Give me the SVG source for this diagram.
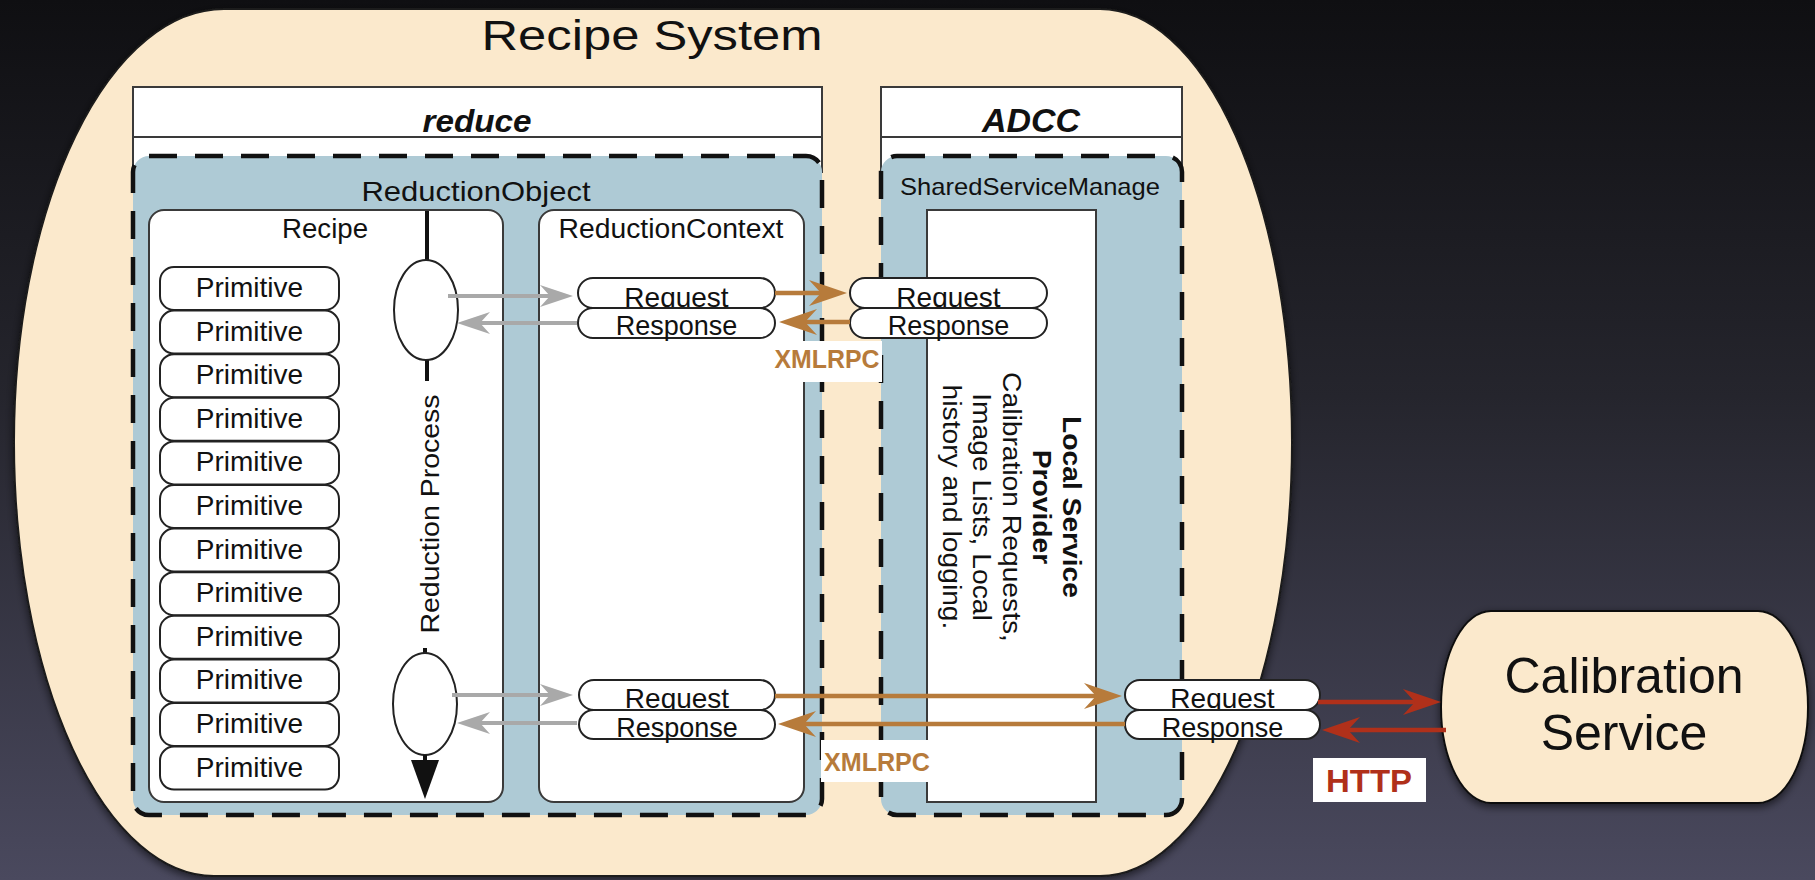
<svg xmlns="http://www.w3.org/2000/svg" width="1815" height="880" viewBox="0 0 1815 880">
<defs>
<linearGradient id="bg" x1="0" y1="0" x2="0" y2="1">
<stop offset="0" stop-color="#0f0f12"/>
<stop offset="0.45" stop-color="#25252d"/>
<stop offset="1" stop-color="#4a495e"/>
</linearGradient>
<filter id="shadow" x="-10%" y="-10%" width="120%" height="120%">
<feDropShadow dx="0" dy="3" stdDeviation="4" flood-color="#000" flood-opacity="0.6"/>
</filter>
<marker id="ah-gray" viewBox="-36 -14 38 28" refX="-12" refY="0" markerWidth="38" markerHeight="28" markerUnits="userSpaceOnUse" orient="auto">
<path d="M0,0 L-33,-11 L-23,0 L-33,11 Z" fill="#a9a9a9"/>
</marker>
<marker id="ah-orange" viewBox="-40 -15 42 30" refX="-12" refY="0" markerWidth="42" markerHeight="30" markerUnits="userSpaceOnUse" orient="auto">
<path d="M0,0 L-38,-13 L-26,0 L-38,13 Z" fill="#b77b3b"/>
</marker>
<marker id="ah-red" viewBox="-40 -15 42 30" refX="-12" refY="0" markerWidth="42" markerHeight="30" markerUnits="userSpaceOnUse" orient="auto">
<path d="M0,0 L-38,-13 L-26,0 L-38,13 Z" fill="#b0301a"/>
</marker>
</defs>
<style>
.t{font-family:"Liberation Sans",Arial,Helvetica,sans-serif;fill:#111;text-anchor:middle}
.box{fill:#fff;stroke:#3a3a3a;stroke-width:2}
.region{fill:#aecad5;stroke:#111;stroke-width:4.5;stroke-dasharray:28 18}
.pill{fill:#fff;stroke:#222;stroke-width:2}
.prim{fill:#fff;stroke:#222;stroke-width:2}
.beige{fill:#fbe9cc}
.gray{stroke:#a9a9a9;stroke-width:4;fill:none;marker-end:url(#ah-gray)}
.orange{stroke:#b77b3b;stroke-width:4.5;fill:none;marker-end:url(#ah-orange)}
.red{stroke:#b0301a;stroke-width:4.5;fill:none;marker-end:url(#ah-red)}
.lbl{fill:#fff}
</style>
<rect x="0" y="0" width="1815" height="880" fill="url(#bg)"/>

<g id="recipe-system">
<path class="beige" d="M224,9 H1100 A192,433 0 0 1 1292,442 A192,434 0 0 1 1100,876 H214 A200,434 0 0 1 14,442 A210,433 0 0 1 224,9 Z" stroke="#1a1a1a" stroke-width="2" filter="url(#shadow)"/>
<text class="t" x="652" y="50" font-size="43" textLength="341" lengthAdjust="spacingAndGlyphs">Recipe System</text>
</g>

<g id="reduce">
<rect class="box" x="133" y="87" width="689" height="85"/>
<line x1="133" y1="137" x2="822" y2="137" stroke="#3a3a3a" stroke-width="2"/>
<text class="t" x="477" y="132" font-size="32" font-weight="bold" font-style="italic" textLength="109" lengthAdjust="spacingAndGlyphs">reduce</text>
</g>

<g id="reduction-object">
<rect class="region" x="133" y="156" width="689" height="659" rx="16"/>
<text class="t" x="476" y="201" font-size="28" textLength="229" lengthAdjust="spacingAndGlyphs">ReductionObject</text>
</g>

<g id="recipe">
<rect class="box" x="149" y="210" width="354" height="592" rx="15"/>
<text class="t" x="325" y="238" font-size="27" textLength="86" lengthAdjust="spacingAndGlyphs">Recipe</text>
</g>

<g id="primitives">
<g id="primitive-1"><rect class="prim" x="160" y="267" width="179" height="43" rx="14"/><text class="t" x="249.5" y="297" font-size="28">Primitive</text></g>
<g id="primitive-2"><rect class="prim" x="160" y="310.6" width="179" height="43" rx="14"/><text class="t" x="249.5" y="340.6" font-size="28">Primitive</text></g>
<g id="primitive-3"><rect class="prim" x="160" y="354.2" width="179" height="43" rx="14"/><text class="t" x="249.5" y="384.2" font-size="28">Primitive</text></g>
<g id="primitive-4"><rect class="prim" x="160" y="397.8" width="179" height="43" rx="14"/><text class="t" x="249.5" y="427.8" font-size="28">Primitive</text></g>
<g id="primitive-5"><rect class="prim" x="160" y="441.4" width="179" height="43" rx="14"/><text class="t" x="249.5" y="471.4" font-size="28">Primitive</text></g>
<g id="primitive-6"><rect class="prim" x="160" y="485" width="179" height="43" rx="14"/><text class="t" x="249.5" y="515" font-size="28">Primitive</text></g>
<g id="primitive-7"><rect class="prim" x="160" y="528.6" width="179" height="43" rx="14"/><text class="t" x="249.5" y="558.6" font-size="28">Primitive</text></g>
<g id="primitive-8"><rect class="prim" x="160" y="572.2" width="179" height="43" rx="14"/><text class="t" x="249.5" y="602.2" font-size="28">Primitive</text></g>
<g id="primitive-9"><rect class="prim" x="160" y="615.8" width="179" height="43" rx="14"/><text class="t" x="249.5" y="645.8" font-size="28">Primitive</text></g>
<g id="primitive-10"><rect class="prim" x="160" y="659.4" width="179" height="43" rx="14"/><text class="t" x="249.5" y="689.4" font-size="28">Primitive</text></g>
<g id="primitive-11"><rect class="prim" x="160" y="703" width="179" height="43" rx="14"/><text class="t" x="249.5" y="733" font-size="28">Primitive</text></g>
<g id="primitive-12"><rect class="prim" x="160" y="746.6" width="179" height="43" rx="14"/><text class="t" x="249.5" y="776.6" font-size="28">Primitive</text></g>
</g>

<g id="reduction-process">
<line x1="427" y1="211" x2="427" y2="260" stroke="#111" stroke-width="4"/>
<line x1="427" y1="360" x2="427" y2="381" stroke="#111" stroke-width="4"/>
<ellipse cx="426" cy="310" rx="32" ry="50" fill="#fff" stroke="#222" stroke-width="2"/>
<text class="t" transform="translate(439,514) scale(1,1.14) rotate(-90)" font-size="25">Reduction Process</text>
<line x1="425" y1="648" x2="425" y2="655" stroke="#111" stroke-width="4"/>
<ellipse cx="425" cy="704" rx="32" ry="51" fill="#fff" stroke="#222" stroke-width="2"/>
<line x1="425" y1="755" x2="425" y2="762" stroke="#111" stroke-width="4"/>
<polygon points="411,760 439,760 425,799" fill="#111"/>
</g>

<g id="reduction-context">
<rect class="box" x="539" y="210" width="265" height="592" rx="15"/>
<text class="t" x="671" y="238" font-size="27" textLength="225" lengthAdjust="spacingAndGlyphs">ReductionContext</text>
</g>

<g id="adcc">
<rect class="box" x="881" y="87" width="301" height="85"/>
<line x1="881" y1="137" x2="1182" y2="137" stroke="#3a3a3a" stroke-width="2"/>
<text class="t" x="1031" y="132" font-size="33" font-weight="bold" font-style="italic" textLength="98" lengthAdjust="spacingAndGlyphs">ADCC</text>
</g>

<g id="shared-service-manager">
<rect class="region" x="881" y="156" width="301" height="659" rx="16"/>
<text class="t" x="1030" y="195" font-size="24" fill="#222" textLength="260" lengthAdjust="spacingAndGlyphs">SharedServiceManage</text>
</g>

<g id="local-service-provider">
<rect class="box" x="927" y="210" width="169" height="592"/>
<g transform="translate(1063,507) scale(1,1.13) rotate(90)">
<text class="t" x="0" y="0" font-size="25" font-weight="bold">Local Service</text>
<text class="t" x="0" y="30" font-size="25" font-weight="bold">Provider</text>
<text class="t" x="0" y="60" font-size="25">Calibration Requests,</text>
<text class="t" x="0" y="90" font-size="25">Image Lists, Local</text>
<text class="t" x="0" y="120" font-size="25">history and logging.</text>
</g>
</g>

<g id="rc-request-1"><rect class="pill" x="578" y="278" width="197" height="30" rx="15"/><text class="t" x="676.5" y="307" font-size="28">Request</text></g>
<g id="rc-response-1"><rect class="pill" x="578" y="308" width="197" height="30" rx="15"/><text class="t" x="676.5" y="335" font-size="27">Response</text></g>
<g id="ssm-request-1"><rect class="pill" x="850" y="278" width="197" height="30" rx="15"/><text class="t" x="948.5" y="307" font-size="28">Request</text></g>
<g id="ssm-response-1"><rect class="pill" x="850" y="308" width="197" height="30" rx="15"/><text class="t" x="948.5" y="335" font-size="27">Response</text></g>
<g id="rc-request-2"><rect class="pill" x="579" y="680" width="196" height="30" rx="15"/><text class="t" x="677" y="708" font-size="28">Request</text></g>
<g id="rc-response-2"><rect class="pill" x="579" y="710" width="196" height="29" rx="14.5"/><text class="t" x="677" y="737" font-size="27">Response</text></g>
<g id="ssm-request-2"><rect class="pill" x="1125" y="680" width="195" height="30" rx="15"/><text class="t" x="1222.5" y="708" font-size="28">Request</text></g>
<g id="ssm-response-2"><rect class="pill" x="1125" y="710" width="195" height="29" rx="14.5"/><text class="t" x="1222.5" y="737" font-size="27">Response</text></g>

<g id="calibration-service">
<rect class="beige" x="1441" y="611" width="367" height="192" rx="50" ry="96" stroke="#111" stroke-width="2" filter="url(#shadow)"/>
<text class="t" x="1624" y="693" font-size="50">Calibration</text>
<text class="t" x="1624" y="750" font-size="50">Service</text>
</g>

<g id="connectors">
<path class="gray" d="M448,296 H561"/>
<path class="gray" d="M577,323 H469"/>
<path class="gray" d="M452,695 H561"/>
<path class="gray" d="M577,723 H469"/>
<path class="orange" d="M775,293 H835"/>
<path class="orange" d="M850,322 H791"/>
<path class="orange" d="M775,696 H1110"/>
<path class="orange" d="M1125,724 H790"/>
<path class="red" d="M1318,702 H1429"/>
<path class="red" d="M1446,730 H1334"/>
</g>

<g id="labels">
<rect class="lbl" x="768" y="341" width="114" height="41"/>
<text class="t" x="827" y="368" font-size="26" font-weight="bold" fill="#b77b3b" style="fill:#b77b3b" textLength="105" lengthAdjust="spacingAndGlyphs">XMLRPC</text>
<rect class="lbl" x="821" y="740" width="112" height="42"/>
<text class="t" x="877" y="771" font-size="26" font-weight="bold" style="fill:#b77b3b" textLength="106" lengthAdjust="spacingAndGlyphs">XMLRPC</text>
<rect class="lbl" x="1313" y="758" width="113" height="44"/>
<text class="t" x="1369" y="792" font-size="32" font-weight="bold" style="fill:#b0301a" textLength="86" lengthAdjust="spacingAndGlyphs">HTTP</text>
</g>
</svg>
